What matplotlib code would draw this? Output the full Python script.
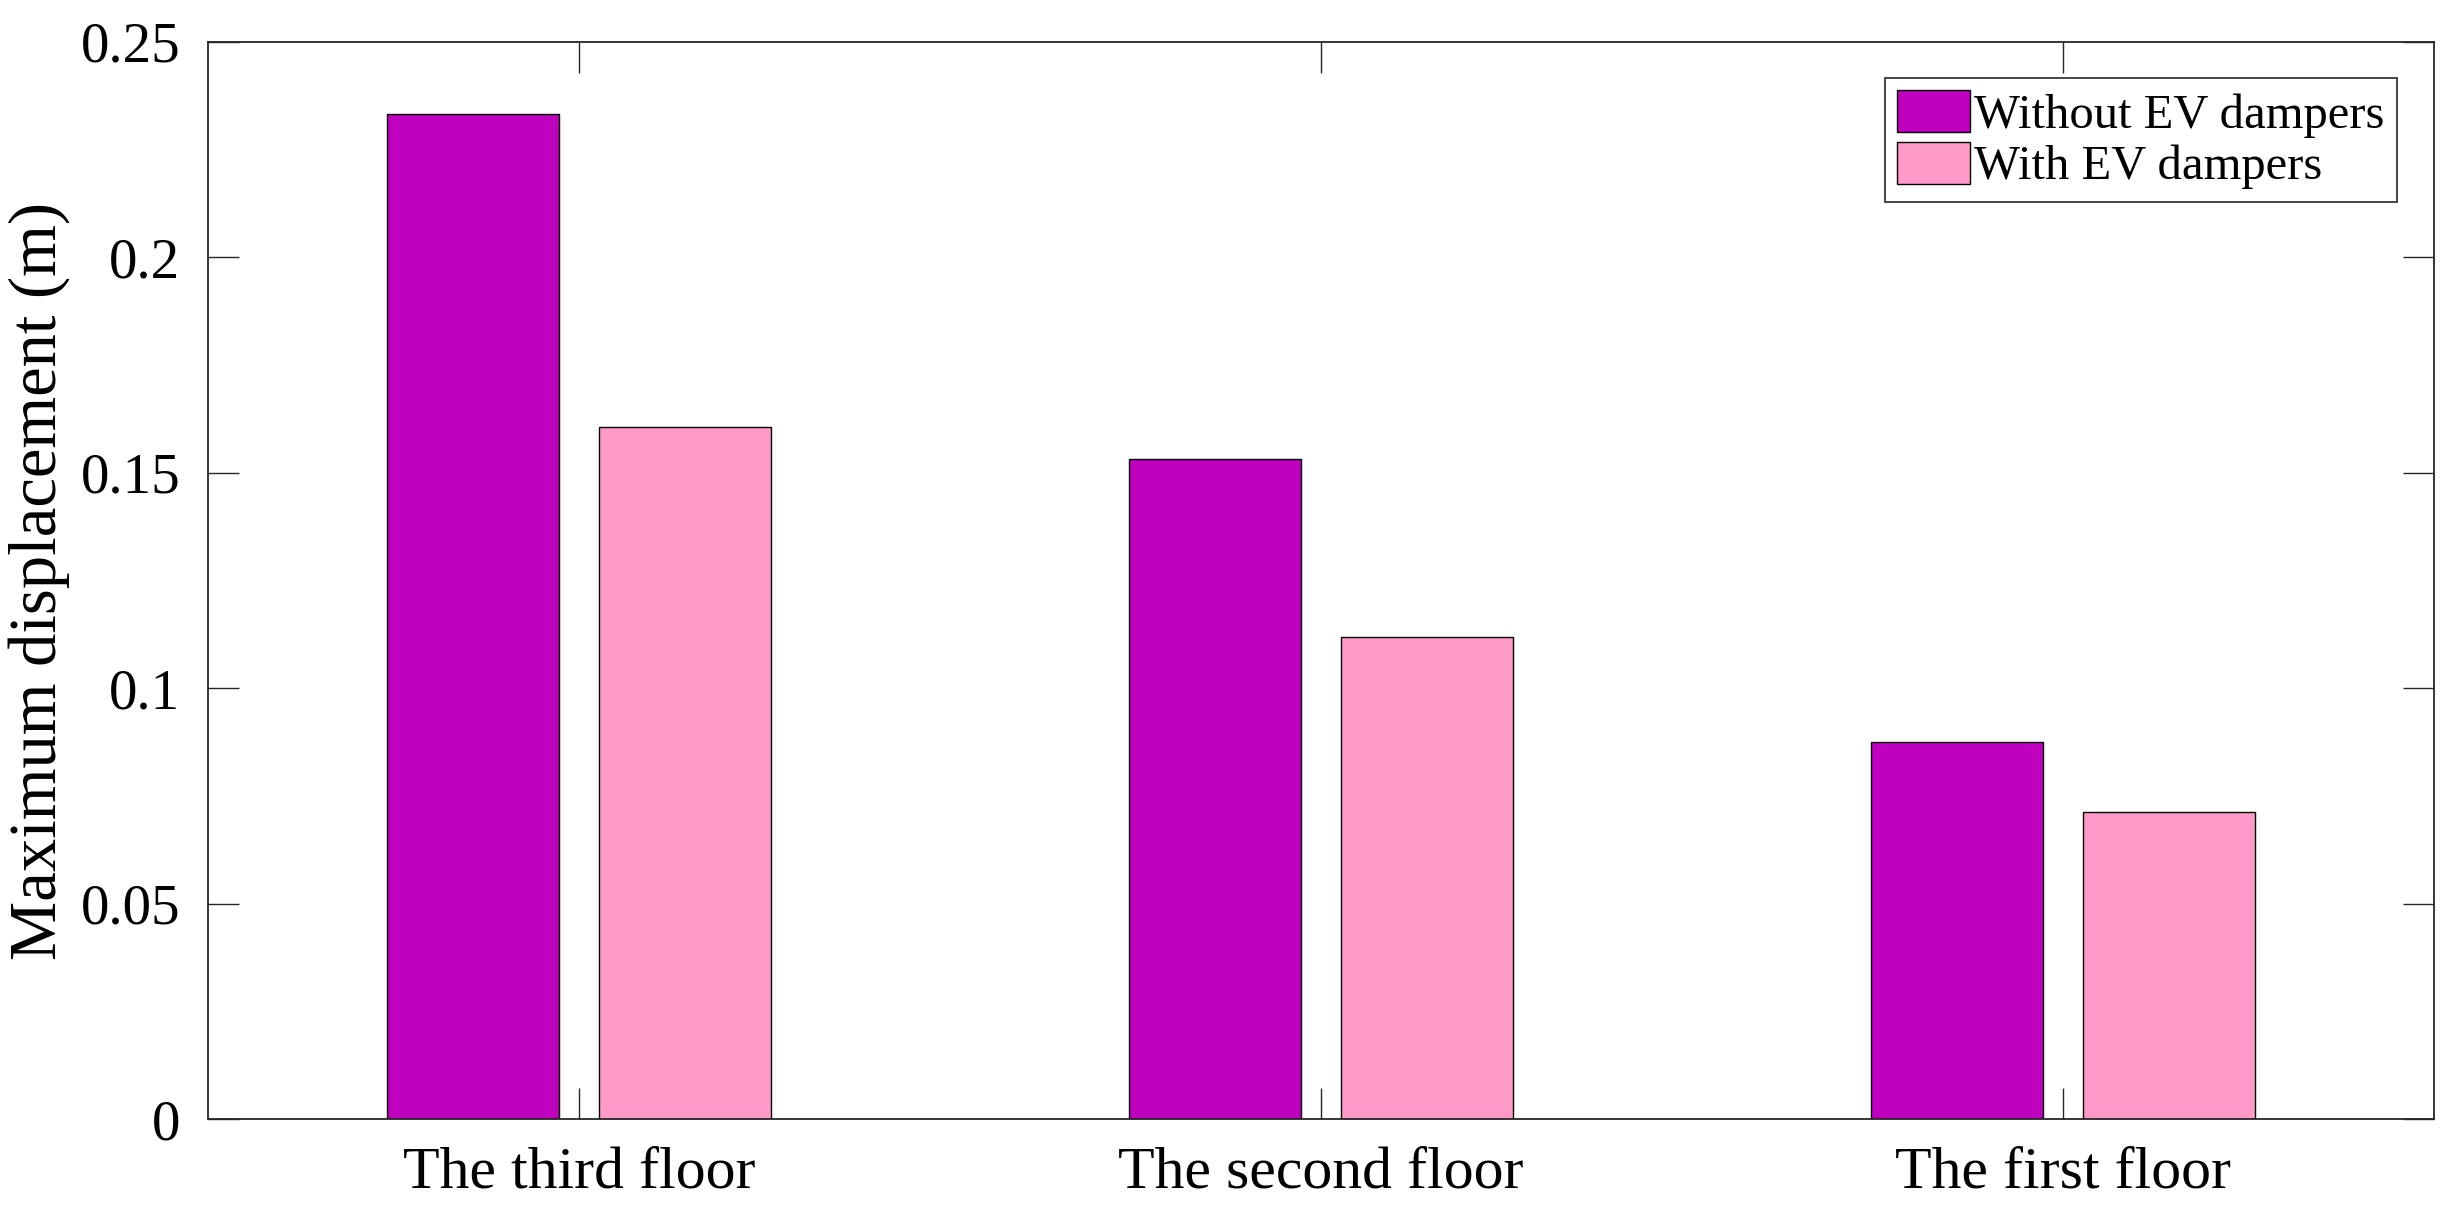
import numpy as np
import matplotlib.pyplot as plt

plt.rcParams['font.family'] = ['Liberation Serif', 'DejaVu Serif']

floors = ["The third floor", "The second floor", "The first floor"]
without_ev = [0.2333, 0.1533, 0.0876]
with_ev = [0.1606, 0.1119, 0.0712]
series_names = ["Without EV dampers", "With EV dampers"]
yticks = [0, 0.05, 0.1, 0.15, 0.2, 0.25]
ytick_labels = ["0", "0.05", "0.1", "0.15", "0.2", "0.25"]

fig = plt.figure(figsize=(24.53, 12.22), dpi=100)
ax = fig.add_axes([208/2453, 1-1119/1222, (2434-208)/2453, (1119-42)/1222])

x = np.arange(1, len(floors)+1)
w = 0.231
off = 0.143
ax.bar(x-off, without_ev, w, color='#BF00BF', edgecolor='black', linewidth=1.0, label=series_names[0])
ax.bar(x+off, with_ev, w, color='#FF99C8', edgecolor='black', linewidth=1.0, label=series_names[1])

ax.set_xlim(0.5, 3.5)
ax.set_ylim(0, 0.25)
ax.set_xticks(x)
ax.set_xticklabels(floors, fontsize=43)
ax.set_yticks(yticks)
ax.set_yticklabels(ytick_labels, fontsize=41)
ax.tick_params(direction='in', length=22, width=1, top=True, right=True, color='#262626')
ax.tick_params(axis='x', pad=20)
ax.tick_params(axis='y', pad=20)
for s in ax.spines.values():
    s.set_color('#262626')
    s.set_linewidth(1.3)

# ylabel placed by hand (right edge of the rotated text)
ax.set_ylabel("Maximum displacement (m)", fontsize=48)
ax.yaxis.set_label_coords(-(208-70)/(2434-208), 0.5)

leg = ax.legend(loc='upper right', bbox_to_anchor=((2397-208)/(2434-208), (1119-78)/(1119-42)),
                fontsize=35, fancybox=False, framealpha=1, edgecolor='#262626',
                handlelength=1.5, handleheight=0.95, handletextpad=0.1, borderpad=0.25,
                labelspacing=0.08, borderaxespad=0)
leg.get_frame().set_linewidth(1.2)

fig.savefig("out.png", dpi=100)
